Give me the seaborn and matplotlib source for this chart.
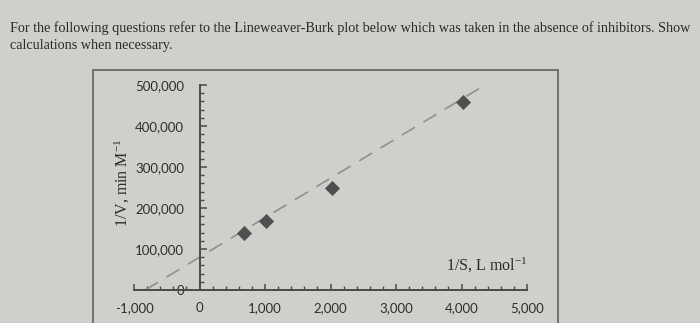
import matplotlib
matplotlib.use("Agg")
import matplotlib.pyplot as plt
from matplotlib.patches import Rectangle
from matplotlib.ticker import FixedLocator, MultipleLocator, FixedFormatter
import seaborn as sns
import pandas as pd

# ---- data ----
inv_s = [680, 1020, 2020, 4030]              # 1/S, L mol^-1
inv_v = [138000, 168000, 250000, 458000]     # 1/V, min M^-1
trend_x = [-830, 4410]                       # dashed fit line ends
trend_y = [0, 505000]
x_ticks = [-1000, 0, 1000, 2000, 3000, 4000, 5000]
x_labels = ["-1,000", "0", "1,000", "2,000", "3,000", "4,000", "5,000"]
y_ticks = [0, 100000, 200000, 300000, 400000, 500000]
y_labels = ["0", "100,000", "200,000", "300,000", "400,000", "500,000"]
title_lines = ["For the following questions refer to the Lineweaver-Burk plot below which was taken in the absence of inhibitors. Show",
               "calculations when necessary."]

sns.set_theme(style="white")
plt.rcParams["font.family"] = ["Lato", "DejaVu Sans"]
plt.rcParams["mathtext.fontset"] = "custom"
plt.rcParams["mathtext.rm"] = "Liberation Serif"
plt.rcParams["mathtext.it"] = "Liberation Serif:italic"

W, H = 700, 323
fig = plt.figure(figsize=(W / 100, H / 100), dpi=100)
bg = "#cfcfcc"
fig.patch.set_facecolor(bg)

# outer chart frame
fig.patches.append(Rectangle((93 / W, -0.1), (558 - 93) / W, (323 - 70) / H + 0.1,
                             transform=fig.transFigure, fill=False,
                             edgecolor="#6a6a6a", linewidth=1.3))

# question text
for i, line in enumerate(title_lines):
    fig.text(10 / W, 1 - (28 + 17 * i) / H, line, family=["Liberation Serif"],
             fontsize=10.2, color="#2b2b2b", va="center", ha="left")

# axes mapped so that x=-1000..5000 -> px 134..527, y=0..500000 -> px 290..85
ax = fig.add_axes([134 / W, (H - 290) / H, (527 - 134) / W, 205 / H])
ax.set_facecolor("none")
ax.set_xlim(-1000, 5000)
ax.set_ylim(0, 500000)

df_pts = pd.DataFrame({"x": inv_s, "y": inv_v})
df_line = pd.DataFrame({"x": trend_x, "y": trend_y})
sns.lineplot(data=df_line, x="x", y="y", ax=ax, color="#909090", linewidth=1.2,
             dashes=False, linestyle=(0, (9, 6)))
sns.scatterplot(data=df_pts, x="x", y="y", ax=ax, marker="D", s=52,
                color="#4f4f4f", edgecolor="#4f4f4f", linewidth=0.5, zorder=5)

for s in ["top", "right"]:
    ax.spines[s].set_visible(False)
ax.spines["left"].set_position(("data", 0))
ax.spines["bottom"].set_position(("data", 0))
for s in ["left", "bottom"]:
    ax.spines[s].set_color("#4a4a4a")
    ax.spines[s].set_linewidth(1.4)

ax.xaxis.set_major_locator(FixedLocator(x_ticks))
ax.xaxis.set_major_formatter(FixedFormatter(x_labels))
ax.xaxis.set_minor_locator(MultipleLocator(200))
ax.yaxis.set_major_locator(FixedLocator(y_ticks))
ax.yaxis.set_major_formatter(FixedFormatter(y_labels))
ax.yaxis.set_minor_locator(MultipleLocator(20000))

ax.tick_params(axis="x", which="both", direction="in", color="#4a4a4a",
               labelcolor="#2e2e2e", labelsize=9.5, pad=9, bottom=True)
ax.tick_params(axis="x", which="major", length=4.5, width=1.1)
ax.tick_params(axis="x", which="minor", length=3, width=1.0)
ax.tick_params(axis="y", which="both", direction="in", color="#4a4a4a",
               labelcolor="#2e2e2e", labelsize=9.5, pad=11, left=True)
ax.tick_params(axis="y", which="major", length=5, width=1.1)
ax.tick_params(axis="y", which="minor", length=3, width=1.0)
for lab in ax.get_xticklabels():
    lab.set_family(["Lato"])
for lab in ax.get_yticklabels():
    lab.set_family(["Lato"])

ax.set_xlabel("")
ax.set_ylabel("")
fig.text(122 / W, 1 - 183 / H, r"1/V, min M$^{\mathregular{-1}}$", rotation=90,
         family=["Liberation Serif"], fontsize=11.5, color="#2b2b2b", ha="center", va="center")
fig.text(487 / W, 1 - 265 / H, r"1/S, L mol$^{\mathregular{-1}}$", family=["Liberation Serif"],
         fontsize=11.5, color="#2b2b2b", ha="center", va="center")

fig.savefig("out.png", dpi=100, facecolor=bg)
